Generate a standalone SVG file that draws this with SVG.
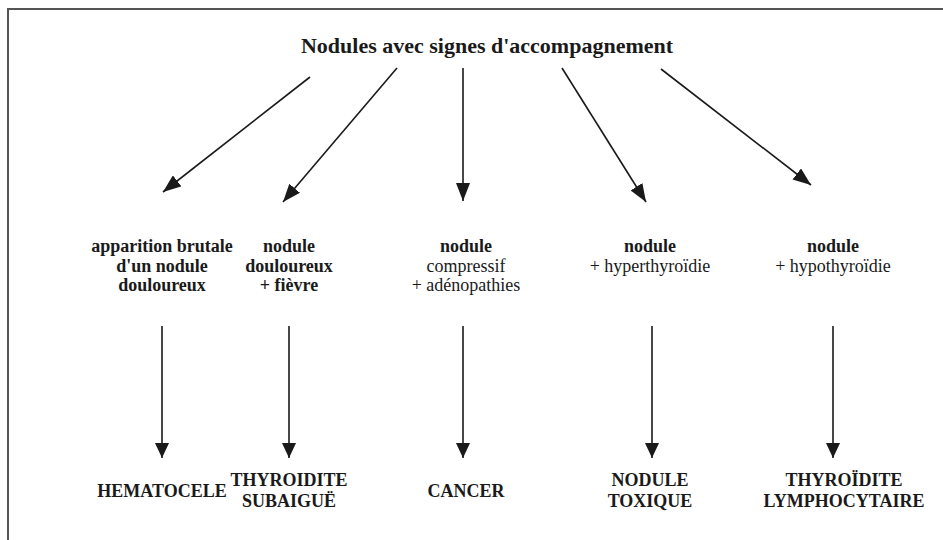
<svg xmlns="http://www.w3.org/2000/svg" width="943" height="540" viewBox="0 0 943 540">
<style>
text{font-family:"Liberation Serif","Times New Roman",serif;fill:#1a1a1a;text-anchor:middle}
.t{font-size:22px;font-weight:bold}
.b{font-size:18px;font-weight:bold}
.r{font-size:18px}
.c{stroke:#1a1a1a;stroke-width:1.6;fill:none}
.d{marker-end:url(#ah)}
.v{marker-end:url(#av)}
</style>
<defs>
<marker id="ah" markerUnits="userSpaceOnUse" markerWidth="18" markerHeight="14" refX="18" refY="7" orient="auto"><path d="M0,0 L18,7 L0,14 z" fill="#1a1a1a"/></marker>
<marker id="av" markerUnits="userSpaceOnUse" markerWidth="15" markerHeight="14" refX="15" refY="7" orient="auto"><path d="M0,0 L15,7 L0,14 z" fill="#1a1a1a"/></marker>
</defs>
<rect width="943" height="540" fill="#fff"/>
<path d="M8,540 V9 H943" fill="none" stroke="#555" stroke-width="2"/>
<g id="root"><text class="t" x="487" y="53">Nodules avec signes d'accompagnement</text></g>
<g id="connectors">
<line class="c d" x1="310" y1="77" x2="163" y2="192"/>
<line class="c d" x1="397" y1="68" x2="283" y2="202"/>
<line class="c d" x1="463" y1="68" x2="463" y2="201"/>
<line class="c d" x1="562" y1="68" x2="646" y2="202"/>
<line class="c d" x1="661" y1="69" x2="811" y2="185"/>
<line class="c v" x1="162" y1="326" x2="162" y2="458"/>
<line class="c v" x1="289" y1="326" x2="289" y2="458"/>
<line class="c v" x1="463" y1="326" x2="463" y2="458"/>
<line class="c v" x1="652" y1="326" x2="652" y2="458"/>
<line class="c v" x1="833" y1="326" x2="833" y2="458"/>
</g>
<g id="n1"><text class="b" x="162" y="252">apparition brutale</text><text class="b" x="162" y="272">d'un nodule</text><text class="b" x="162" y="291">douloureux</text></g>
<g id="n2"><text class="b" x="289" y="252">nodule</text><text class="b" x="289" y="272">douloureux</text><text class="b" x="289" y="291">+ fièvre</text></g>
<g id="n3"><text class="b" x="466" y="252">nodule</text><text class="r" x="466" y="272">compressif</text><text class="r" x="466" y="291">+ adénopathies</text></g>
<g id="n4"><text class="b" x="650" y="252">nodule</text><text class="r" x="650" y="272">+ hyperthyroïdie</text></g>
<g id="n5"><text class="b" x="833" y="252">nodule</text><text class="r" x="833" y="272">+ hypothyroïdie</text></g>
<g id="o1"><text class="b" x="162" y="497">HEMATOCELE</text></g>
<g id="o2"><text class="b" x="289" y="486">THYROIDITE</text><text class="b" x="289" y="507">SUBAIGUË</text></g>
<g id="o3"><text class="b" x="466" y="497">CANCER</text></g>
<g id="o4"><text class="b" x="650" y="486">NODULE</text><text class="b" x="650" y="507">TOXIQUE</text></g>
<g id="o5"><text class="b" x="844" y="486">THYROÏDITE</text><text class="b" x="844" y="507">LYMPHOCYTAIRE</text></g>
</svg>
